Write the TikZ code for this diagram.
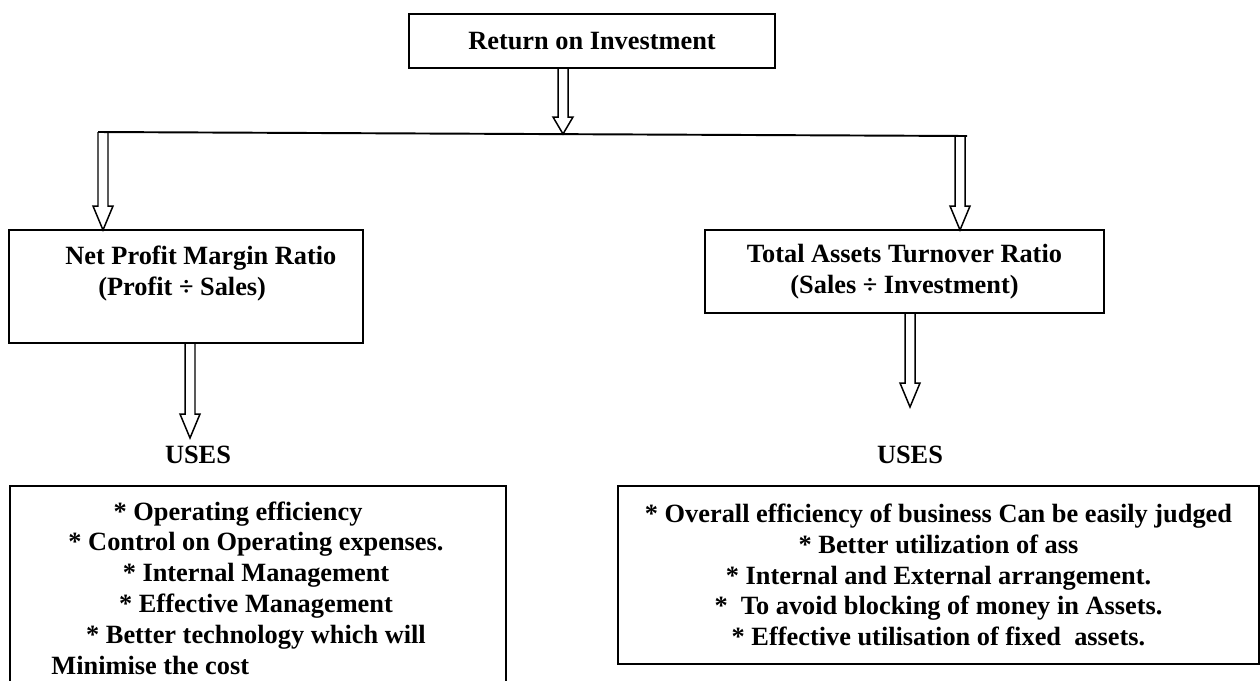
\documentclass[tikz,border=0pt]{standalone}
\usepackage{fontspec}
\setmainfont{Liberation Serif}
\usetikzlibrary{calc}

\tikzset{
	box/.style={draw, line width=1.1pt, rectangle, inner sep=0pt, align=center, font=\fontsize{15}{17.6}\selectfont\bfseries},
	txt/.style={inner sep=0pt, font=\fontsize{15}{17.6}\selectfont\bfseries},
	hollow/.style={draw, line width=0.85pt, line join=miter},
}

% hollow block arrow: #2 gives the top, #3 is the tip
\newcommand{\hollowarrow}[3][0.48cm]{%
	\draw[hollow] ($(#3|-#2)+(-0.1cm,0)$) -- ($(#3)+(-0.1cm,#1)$) -- ($(#3)+(-0.2cm,#1)$) -- (#3)
		-- ($(#3)+(0.2cm,#1)$) -- ($(#3)+(0.1cm,#1)$) -- ($(#3|-#2)+(0.1cm,0)$);}

\begin{document}
\begin{tikzpicture}[x=0.02cm, y=-0.02cm]
	\useasboundingbox (0,0) rectangle (1260,680);
	
	\node[box, minimum width=7.32cm, minimum height=1.08cm] (roi) at (592,41) {Return on Investment};
	
	\node[box, minimum width=7.08cm, minimum height=2.26cm] (npm) at (186,286.5) {};
	\node[txt, anchor=north west, align=left] (npmtxt) at (65,246) {Net Profit Margin Ratio\\\hspace*{0.66cm}(Profit ÷ Sales)};
	
	\node[box, minimum width=7.98cm, minimum height=1.66cm] (tat) at (904.5,271.5) {Total Assets Turnover Ratio\\(Sales ÷ Investment)};
	
	\node[txt] (usesl) at (198,455) {USES};
	\node[txt] (usesr) at (910,455) {USES};
	
	\node[box, minimum width=9.92cm, minimum height=4.3cm, anchor=north west] (npmuses) at (9,485) {};
	\node[txt, anchor=north] (npmlist) at (256,498) {%
		\begin{tabular}{@{}c@{}}
			{*} Operating efficiency\hspace*{0.72cm}\\
			{*} Control on Operating expenses.\\
			{*} Internal Management\\
			{*} Effective Management\\
			{*} Better technology which will\\
			\multicolumn{1}{@{}l@{}}{\hspace*{-0.34cm}Minimise the cost}
		\end{tabular}};
	
	\node[box, minimum width=12.82cm, minimum height=3.56cm, anchor=north] (tatuses) at (938.5,485) {%
		* Overall efficiency of business Can be easily judged\\
		{*} Better utilization of ass\\
		{*} Internal and External arrangement.\\
		{*}\ \ To avoid blocking of money in Assets.\\
		{*} Effective utilisation of fixed\ \ assets.};
	
	\coordinate (jl) at (98,132);
	\coordinate (jr) at (967,136);
	\coordinate (roitip) at (563,134);
	\coordinate (npmin) at (103,230);
	\coordinate (tatin) at (960,230);
	\coordinate (npmout) at (190,438);
	\coordinate (tatout) at (910,407);
	
	\draw[line width=1.1pt] (jl) -- (jr);
	\hollowarrow[0.34cm]{roi.south}{roitip}
	\hollowarrow{jl}{npmin}
	\hollowarrow{jr}{tatin}
	\hollowarrow{npm.south}{npmout}
	\hollowarrow{tat.south}{tatout}
\end{tikzpicture}
\end{document}
